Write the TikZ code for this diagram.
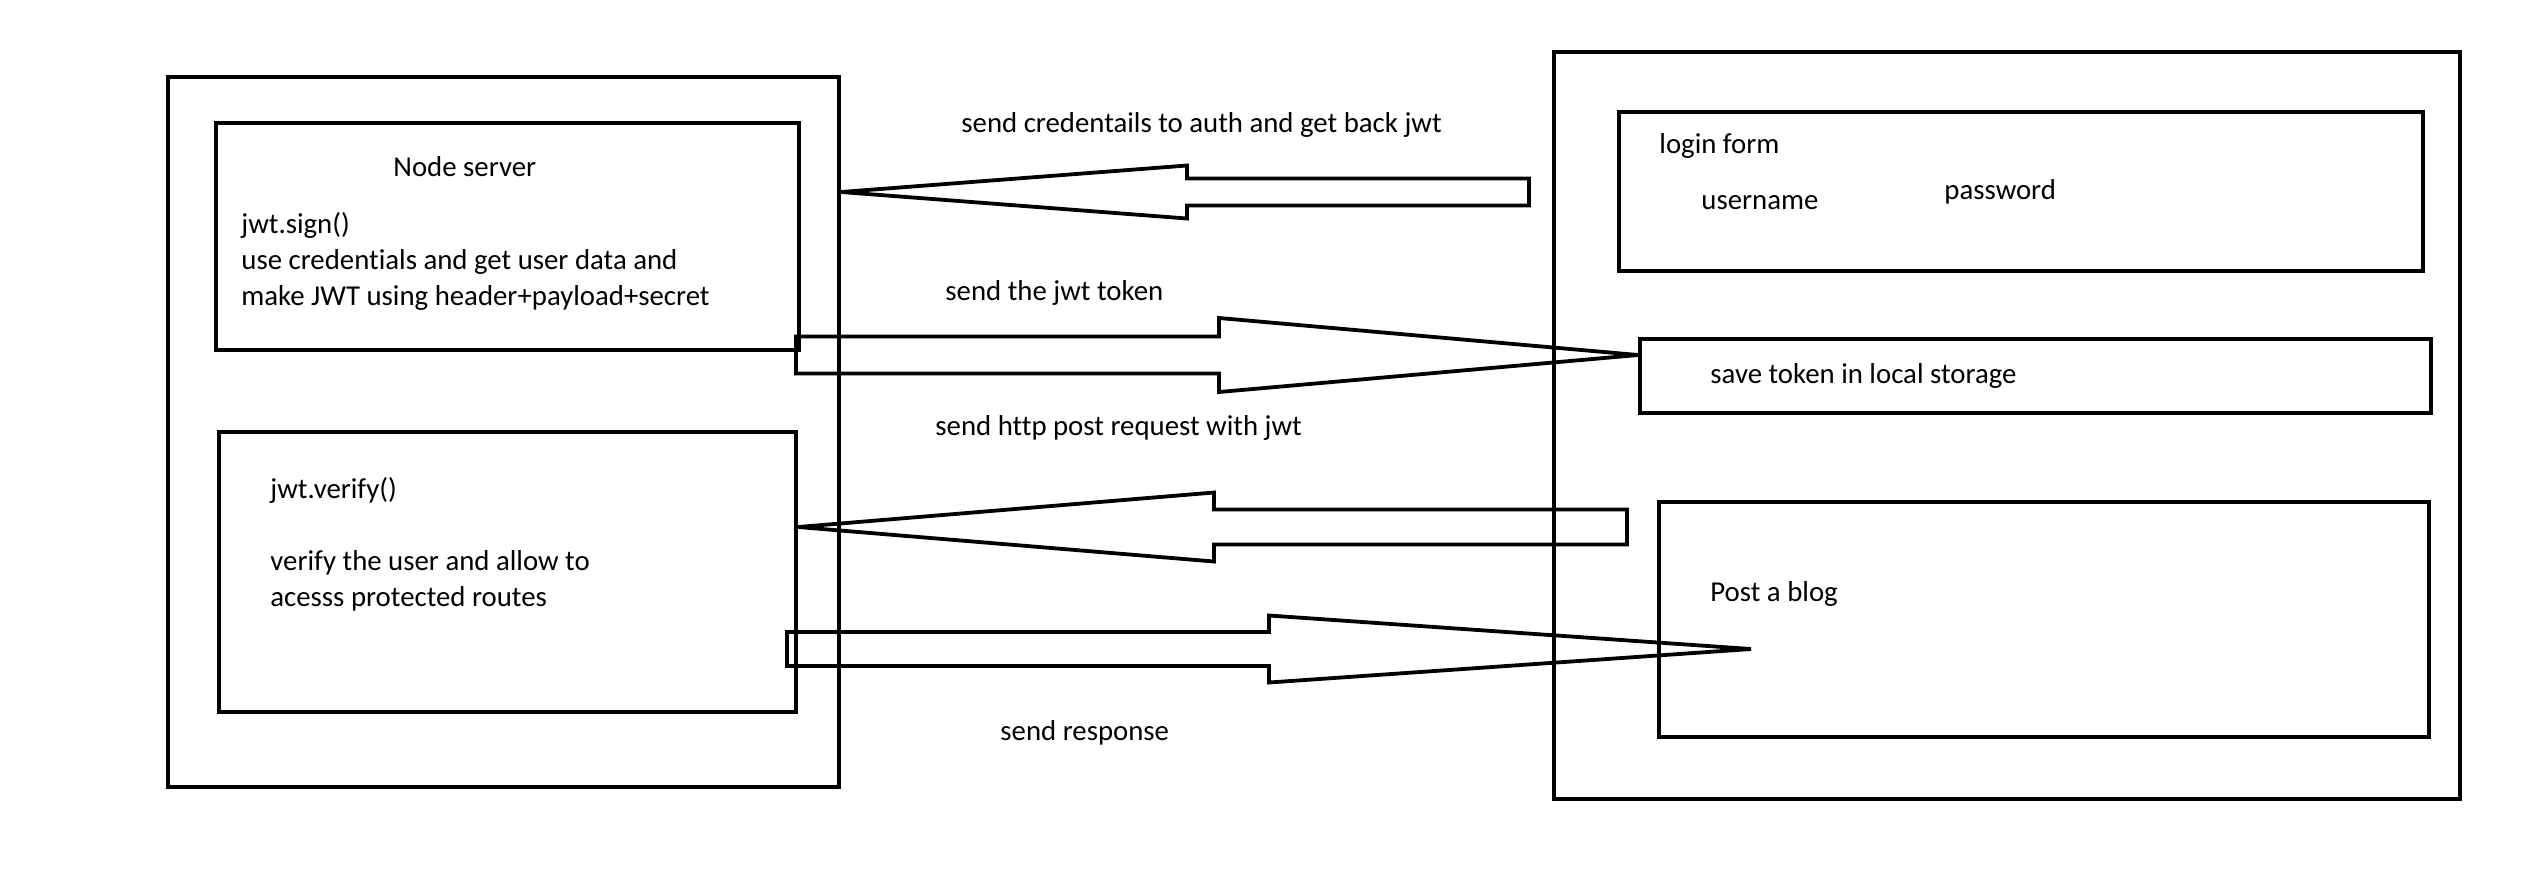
\documentclass[tikz,border=0pt]{standalone}
\usepackage{fontspec}
\setmainfont[Ligatures=NoCommon]{Carlito}
\usetikzlibrary{calc,fit}

% block arrow: tail, tip, head base offset from tip, shaft half, head half
\newcommand{\blockarrow}[5]{%
  \draw[flow] ($(#1)+(0,-#4)$) -- ($(#2)+(#3,-#4)$) -- ($(#2)+(#3,-#5)$)
    -- (#2) -- ($(#2)+(#3,#5)$) -- ($(#2)+(#3,#4)$) -- ($(#1)+(0,#4)$) -- cycle;}

\begin{document}
\begin{tikzpicture}[
    x=0.5pt, y=-0.5pt,
    font=\fontsize{14.4}{18}\selectfont,
    box/.style={
        draw=black,
        line width=2pt,
        inner sep=0pt,
        fit={#1}
    },
    lbl/.style={
        anchor=base west,
        inner sep=0pt
    },
    flow/.style={
        draw=black,
        line width=1.9pt,
        line join=miter
    }
]

\useasboundingbox (0,0) rectangle (2535,895);

% server side
\node[box={(168,77) (839,787)}] (serverFrame) {};
\node[box={(216,123) (799,350)}] (signBox) {};
\node[box={(219,432) (796,712)}] (verifyBox) {};

\node[lbl] (serverTitle) at (393,176) {Node server};
\node[lbl, align=left] (signText) at (241,305)
{jwt.sign()\\
use credentials and get user data and\\
make JWT using header+payload+secret};
\node[lbl, align=left] (verifyText) at (270,606)
{jwt.verify()\\[18pt]
verify the user and allow to\\
acesss protected routes};

% client side
\node[box={(1554,52) (2460,799)}] (clientFrame) {};
\node[box={(1619,112) (2423,271)}] (loginBox) {};
\node[box={(1640,339) (2431,413)}] (storeBox) {};
\node[box={(1659,502) (2429,737)}] (blogBox) {};

\node[lbl] (loginText) at (1659,153) {login form};
\node[lbl] (userText) at (1701,209) {username};
\node[lbl] (passText) at (1944,199) {password};
\node[lbl] (storeText) at (1710,383) {save token in local storage};
\node[lbl] (blogText) at (1710,601) {Post a blog};

% messages
\node[lbl] (credLabel) at (961,132) {send credentails to auth and get back jwt};
\node[lbl] (tokenLabel) at (945,300) {send the jwt token};
\node[lbl] (postLabel) at (935,435) {send http post request with jwt};
\node[lbl] (respLabel) at (1000,740) {send response};

\coordinate (credTail) at (1529,192);
\coordinate (credTip) at (serverFrame.east |- credTail);
\coordinate (tokenTail) at (796,355);
\coordinate (tokenTip) at (storeBox.west |- tokenTail);
\coordinate (postTail) at (1627,527);
\coordinate (postTip) at (verifyBox.east |- postTail);
\coordinate (respTail) at (787,649);
\coordinate (respTip) at (1751,649);

\blockarrow{credTail}{credTip}{346}{13.5}{26.5}
\blockarrow{tokenTail}{tokenTip}{-419}{18.5}{37}
\blockarrow{postTail}{postTip}{416}{17.5}{34.5}
\blockarrow{respTail}{respTip}{-482}{17}{33.5}

\end{tikzpicture}
\end{document}
